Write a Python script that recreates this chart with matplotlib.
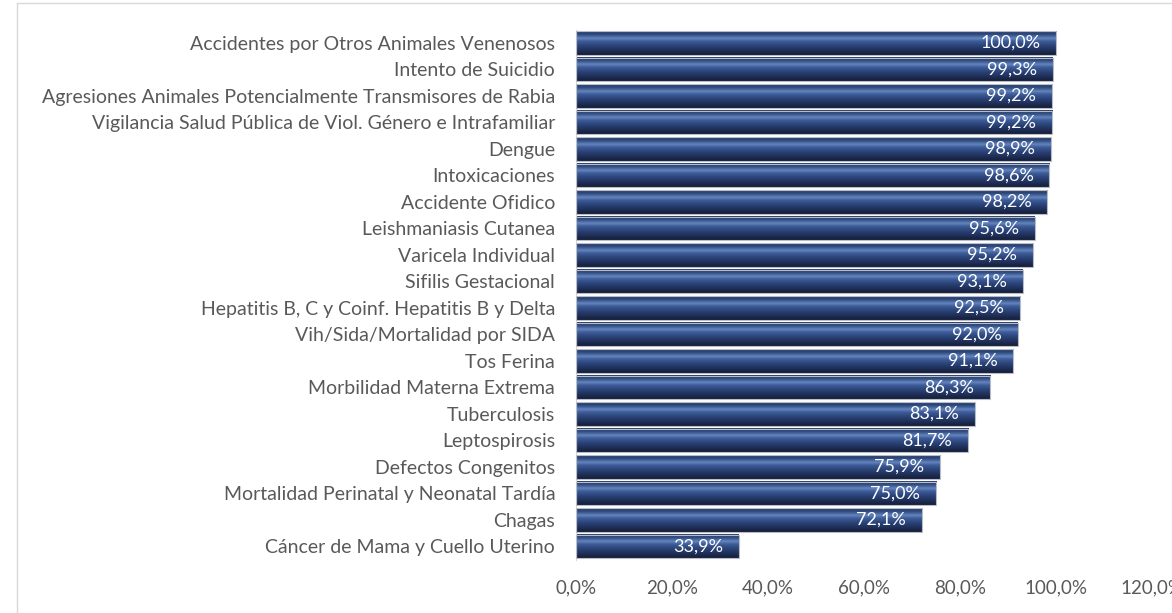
import numpy as np
import matplotlib
matplotlib.use("Agg")
import matplotlib.pyplot as plt
from matplotlib.colors import LinearSegmentedColormap
from matplotlib.lines import Line2D

# data
categories = [
    "Accidentes por Otros Animales Venenosos",
    "Intento de Suicidio",
    "Agresiones Animales Potencialmente Transmisores de Rabia",
    "Vigilancia Salud Pública de Viol. Género e Intrafamiliar",
    "Dengue",
    "Intoxicaciones",
    "Accidente Ofidico",
    "Leishmaniasis Cutanea",
    "Varicela Individual",
    "Sifilis Gestacional",
    "Hepatitis B, C y Coinf. Hepatitis B y Delta",
    "Vih/Sida/Mortalidad por SIDA",
    "Tos Ferina",
    "Morbilidad Materna Extrema",
    "Tuberculosis",
    "Leptospirosis",
    "Defectos Congenitos",
    "Mortalidad Perinatal y Neonatal Tardía",
    "Chagas",
    "Cáncer de Mama y Cuello Uterino",
]
values = [100.0, 99.3, 99.2, 99.2, 98.9, 98.6, 98.2, 95.6, 95.2, 93.1,
          92.5, 92.0, 91.1, 86.3, 83.1, 81.7, 75.9, 75.0, 72.1, 33.9]
xticks = [0, 20, 40, 60, 80, 100, 120]

plt.rcParams["font.family"] = ["Lato", "DejaVu Sans"]
text_color = "#595959"

fig = plt.figure(figsize=(11.72, 6.13), dpi=100)
ax = fig.add_axes([0.4915, 0.0869, 0.4915, 0.8646])

# vertical gradient used to fake the bevelled bar look
bar_cmap = LinearSegmentedColormap.from_list("bevel", [
    (0.0, "#2b3f6e"),
    (0.12, "#2c4678"),
    (0.30, "#6485c0"),
    (0.42, "#3d5c98"),
    (0.65, "#283f72"),
    (0.85, "#1d2c52"),
    (1.0, "#151e38"),
])
grad = np.linspace(0, 1, 64).reshape(-1, 1)

h = 0.87
pos = np.arange(len(categories))
for i, v in enumerate(values):
    ax.imshow(grad, cmap=bar_cmap, aspect="auto", interpolation="bilinear",
              extent=(0, v, i + h / 2, i - h / 2), zorder=2)
ax.barh(pos, values, height=h, facecolor="none", edgecolor="#b8bcc6",
        linewidth=0.8, zorder=3)

for i, v in enumerate(values):
    ax.annotate(f"{v:.1f}%".replace(".", ","), xy=(v, i), xytext=(-11.5, 0),
                textcoords="offset points", ha="right", va="center",
                color="white", fontsize=13, zorder=4)

ax.set_xlim(0, 120)
ax.set_ylim(len(categories) - 0.5, -0.5)
ax.set_xticks(xticks)
ax.set_xticklabels([f"{t:.1f}%".replace(".", ",") for t in xticks])
ax.set_yticks(pos)
ax.set_yticklabels(categories)
ax.tick_params(axis="both", length=0, labelcolor=text_color)
ax.tick_params(axis="x", pad=14, labelsize=13.5)
ax.tick_params(axis="y", pad=15, labelsize=14)
for s in ["top", "right", "bottom"]:
    ax.spines[s].set_visible(False)
ax.spines["left"].set_color("#d9d9d9")

# chart border (right and bottom edges fall outside the image)
fig.add_artist(Line2D([16.5 / 1172, 16.5 / 1172], [0, 1 - 2.5 / 613],
                      transform=fig.transFigure, color="#d9d9d9", lw=1))
fig.add_artist(Line2D([16.5 / 1172, 1], [1 - 2.5 / 613, 1 - 2.5 / 613],
                      transform=fig.transFigure, color="#d9d9d9", lw=1))

fig.savefig("out.png", dpi=100)
